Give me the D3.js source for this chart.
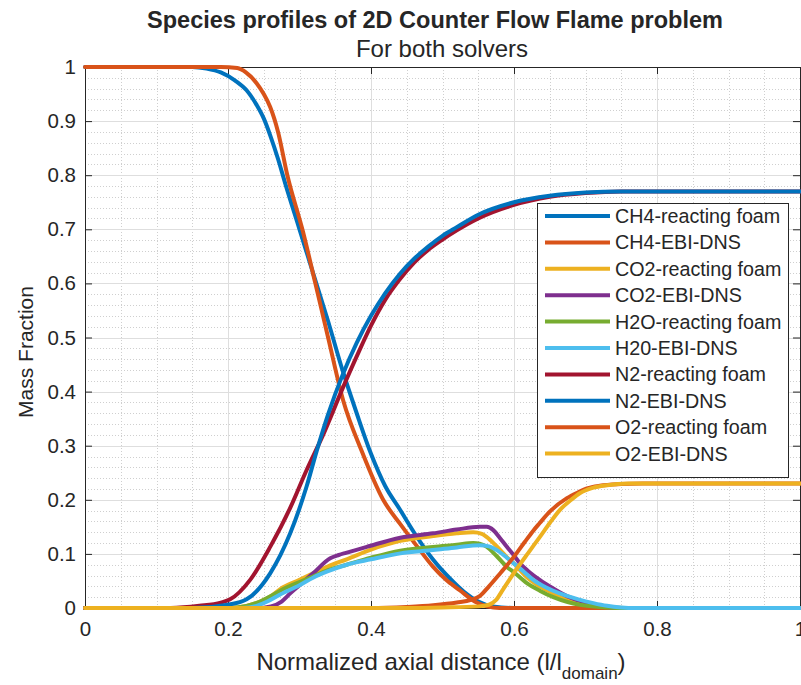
<!DOCTYPE html>
<html><head><meta charset="utf-8">
<script src="https://cdn.jsdelivr.net/npm/d3@7"></script>
<style>
body{margin:0;background:#fff;}
text{font-family:"Liberation Sans",Arial,Helvetica,sans-serif;fill:#262626;}
</style>
</head><body>
<svg id="chart" width="801" height="685"></svg>
<script>
// ---------------- data ----------------
const seriesNames = ["CH4-reacting foam","CH4-EBI-DNS","CO2-reacting foam","CO2-EBI-DNS","H2O-reacting foam","H20-EBI-DNS","N2-reacting foam","N2-EBI-DNS","O2-reacting foam","O2-EBI-DNS"];
const seriesColors = ["#0072BD","#D95319","#EDB120","#7E2F8E","#77AC30","#4DBEEE","#A2142F","#0072BD","#D95319","#EDB120"];

const ch4Foam = [[0,1],[0.15,1],[0.17,0.997],[0.19,0.99],[0.21,0.975],[0.226,0.957],[0.24,0.93],[0.25,0.905],[0.26,0.87],[0.27,0.83],[0.28,0.785],[0.30,0.70],[0.32,0.615],[0.34,0.53],[0.36,0.44],[0.38,0.36],[0.40,0.285],[0.42,0.225],[0.44,0.183],[0.46,0.14],[0.487,0.089],[0.51,0.055],[0.53,0.03],[0.55,0.012],[0.57,0.003],[0.60,0],[1,0]];
const ch4Ebi = [[0,1],[0.19,1],[0.213,0.998],[0.225,0.99],[0.24,0.97],[0.25,0.95],[0.259,0.926],[0.27,0.88],[0.283,0.80],[0.305,0.695],[0.322,0.601],[0.34,0.50],[0.361,0.384],[0.387,0.29],[0.417,0.2],[0.441,0.155],[0.465,0.113],[0.487,0.076],[0.505,0.052],[0.524,0.033],[0.545,0.012],[0.562,0.003],[0.58,0],[1,0]];
const co2Foam = [[0,0],[0.2,0],[0.226,0.004],[0.245,0.012],[0.26,0.022],[0.273,0.035],[0.30,0.052],[0.319,0.064],[0.34,0.077],[0.366,0.09],[0.40,0.108],[0.441,0.124],[0.487,0.133],[0.52,0.138],[0.543,0.140],[0.555,0.137],[0.562,0.131],[0.575,0.115],[0.59,0.094],[0.60,0.082],[0.618,0.057],[0.636,0.04],[0.655,0.027],[0.68,0.013],[0.702,0.006],[0.73,0.002],[0.76,0],[1,0]];
const co2Ebi = [[0,0],[0.24,0],[0.26,0.003],[0.275,0.012],[0.287,0.027],[0.30,0.042],[0.319,0.064],[0.343,0.092],[0.355,0.098],[0.365,0.102],[0.394,0.113],[0.441,0.13],[0.487,0.138],[0.52,0.145],[0.552,0.150],[0.562,0.15],[0.571,0.144],[0.58,0.13],[0.59,0.113],[0.60,0.097],[0.608,0.083],[0.62,0.068],[0.636,0.052],[0.655,0.036],[0.674,0.022],[0.70,0.01],[0.72,0.003],[0.75,0],[1,0]];
const h2oFoam = [[0,0],[0.2,0],[0.226,0.004],[0.245,0.012],[0.26,0.022],[0.273,0.032],[0.30,0.048],[0.319,0.058],[0.34,0.07],[0.366,0.08],[0.40,0.093],[0.441,0.106],[0.487,0.113],[0.52,0.117],[0.543,0.120],[0.552,0.119],[0.562,0.113],[0.575,0.097],[0.59,0.076],[0.60,0.066],[0.618,0.046],[0.636,0.032],[0.655,0.020],[0.675,0.011],[0.692,0.006],[0.72,0.002],[0.75,0],[1,0]];
const h2oEbi = [[0,0],[0.22,0],[0.24,0.004],[0.255,0.012],[0.273,0.025],[0.30,0.042],[0.319,0.056],[0.34,0.068],[0.366,0.08],[0.40,0.09],[0.441,0.101],[0.487,0.107],[0.52,0.112],[0.552,0.116],[0.565,0.114],[0.576,0.107],[0.59,0.093],[0.599,0.083],[0.613,0.068],[0.627,0.052],[0.645,0.038],[0.664,0.027],[0.69,0.016],[0.711,0.009],[0.73,0.004],[0.75,0.001],[0.77,0],[1,0]];
const n2Foam = [[0,0],[0.12,0],[0.16,0.004],[0.19,0.01],[0.203,0.016],[0.231,0.052],[0.259,0.113],[0.287,0.185],[0.31,0.255],[0.333,0.32],[0.36,0.405],[0.38,0.465],[0.40,0.522],[0.42,0.57],[0.44,0.607],[0.46,0.638],[0.48,0.662],[0.50,0.681],[0.52,0.698],[0.55,0.72],[0.60,0.745],[0.65,0.76],[0.70,0.767],[0.75,0.77],[1,0.77]];
const n2Ebi = [[0,0],[0.15,0],[0.20,0.006],[0.226,0.016],[0.259,0.064],[0.287,0.138],[0.31,0.225],[0.324,0.29],[0.34,0.358],[0.36,0.43],[0.38,0.49],[0.40,0.54],[0.42,0.582],[0.44,0.617],[0.46,0.645],[0.48,0.668],[0.50,0.688],[0.52,0.704],[0.55,0.727],[0.60,0.75],[0.65,0.762],[0.70,0.768],[0.75,0.77],[1,0.77]];
const o2Foam = [[0,0],[0.40,0],[0.45,0.002],[0.487,0.005],[0.52,0.01],[0.54,0.015],[0.552,0.022],[0.565,0.04],[0.58,0.063],[0.60,0.095],[0.615,0.122],[0.627,0.143],[0.636,0.157],[0.65,0.178],[0.674,0.203],[0.69,0.214],[0.702,0.221],[0.72,0.226],[0.75,0.229],[0.78,0.23],[1,0.23]];
const o2Ebi = [[0,0],[0.45,0],[0.50,0.001],[0.55,0.003],[0.565,0.006],[0.575,0.015],[0.585,0.035],[0.60,0.065],[0.62,0.102],[0.636,0.131],[0.65,0.157],[0.664,0.181],[0.68,0.2],[0.692,0.212],[0.71,0.222],[0.73,0.227],[0.76,0.23],[1,0.23]];

const seriesData = [ch4Foam,ch4Ebi,co2Foam,co2Ebi,h2oFoam,h2oEbi,n2Foam,n2Ebi,o2Foam,o2Ebi];

const xTickValues = [0,0.2,0.4,0.6,0.8,1];
const xTickLabels = ["0","0.2","0.4","0.6","0.8","1"];
const yTickValues = [0,0.1,0.2,0.3,0.4,0.5,0.6,0.7,0.8,0.9,1];
const yTickLabels = ["0","0.1","0.2","0.3","0.4","0.5","0.6","0.7","0.8","0.9","1"];
const xMinorStep = 0.05, yMinorStep = 0.02;

const titleText = "Species profiles of 2D Counter Flow Flame problem";
const subtitleText = "For both solvers";
const yLabelText = "Mass Fraction";

// ---------------- layout ----------------
const L = 85, R = 800, T = 67, B = 608;
const svg = d3.select("#chart");
const x = d3.scaleLinear().domain([0,1]).range([L,R]);
const y = d3.scaleLinear().domain([0,1]).range([B,T]);

const xMinor = d3.range(0,1.0001,xMinorStep).filter(v=>!xTickValues.some(t=>Math.abs(t-v)<1e-9));
const yMinor = d3.range(0,1.0001,yMinorStep).filter(v=>!yTickValues.some(t=>Math.abs(t-v)<1e-9));

const grid = svg.append("g");
grid.selectAll(".mx").data(xMinor).join("line")
  .attr("x1",d=>Math.round(x(d))+0.5).attr("x2",d=>Math.round(x(d))+0.5).attr("y1",T).attr("y2",B)
  .attr("stroke","#cfcfcf").attr("stroke-width",1).attr("stroke-dasharray","1,2");
grid.selectAll(".my").data(yMinor).join("line")
  .attr("y1",d=>Math.round(y(d))+0.5).attr("y2",d=>Math.round(y(d))+0.5).attr("x1",L).attr("x2",R)
  .attr("stroke","#cfcfcf").attr("stroke-width",1).attr("stroke-dasharray","1,2");
grid.selectAll(".gx").data(xTickValues).join("line")
  .attr("x1",d=>Math.round(x(d))+0.5).attr("x2",d=>Math.round(x(d))+0.5).attr("y1",T).attr("y2",B)
  .attr("stroke","#dedede").attr("stroke-width",1);
grid.selectAll(".gy").data(yTickValues).join("line")
  .attr("y1",d=>Math.round(y(d))+0.5).attr("y2",d=>Math.round(y(d))+0.5).attr("x1",L).attr("x2",R)
  .attr("stroke","#dedede").attr("stroke-width",1);

// axes (ticks inward)
const tickLen = 7;
const fmtX = (d,i)=>xTickLabels[i], fmtY = (d,i)=>yTickLabels[i];
const axB = svg.append("g").attr("transform",`translate(0,${B})`)
  .call(d3.axisBottom(x).tickValues(xTickValues).tickFormat(fmtX).tickSizeInner(-tickLen).tickSizeOuter(0).tickPadding(13));
const axT = svg.append("g").attr("transform",`translate(0,${T})`)
  .call(d3.axisTop(x).tickValues(xTickValues).tickFormat("").tickSizeInner(-tickLen).tickSizeOuter(0));
const axL = svg.append("g").attr("transform",`translate(${L},0)`)
  .call(d3.axisLeft(y).tickValues(yTickValues).tickFormat(fmtY).tickSizeInner(-tickLen).tickSizeOuter(0).tickPadding(9));
const axR = svg.append("g").attr("transform",`translate(${R},0)`)
  .call(d3.axisRight(y).tickValues(yTickValues).tickFormat("").tickSizeInner(-tickLen).tickSizeOuter(0));
[axB,axT,axL,axR].forEach(a=>{
  a.select(".domain").attr("stroke","#262626");
  a.selectAll(".tick line").attr("stroke","#262626");
  a.selectAll(".tick text").attr("font-size",20.5).attr("fill","#262626")
   .style("font-family",'"Liberation Sans",Arial,sans-serif');
});

// lines
const lineGen = d3.line().x(d=>x(d[0])).y(d=>y(d[1])).curve(d3.curveMonotoneX);
const linesG = svg.append("g");
seriesData.forEach((s,i)=>{
  linesG.append("path").attr("d",lineGen(s)).attr("fill","none")
    .attr("stroke",seriesColors[i]).attr("stroke-width",4)
    .attr("stroke-linejoin","round").attr("stroke-linecap","round");
});

// legend
const lg = svg.append("g");
const lgX = 537, lgY = 203, lgW = 251, lgH = 274, rowH = 26.4, row0 = 216;
lg.append("rect").attr("x",lgX+0.5).attr("y",lgY+0.5).attr("width",lgW).attr("height",lgH)
  .attr("fill","#fff").attr("stroke","#262626").attr("stroke-width",1);
seriesNames.forEach((n,i)=>{
  const cy = row0 + i*rowH;
  lg.append("line").attr("x1",545).attr("x2",610).attr("y1",cy).attr("y2",cy)
    .attr("stroke",seriesColors[i]).attr("stroke-width",4);
  lg.append("text").attr("x",615).attr("y",cy).attr("dy","0.36em").attr("font-size",19.7).text(n);
});

// titles
svg.append("text").attr("x",435).attr("y",28).attr("text-anchor","middle")
  .attr("font-size",23.5).attr("font-weight","bold").attr("fill","#000").text(titleText);
svg.append("text").attr("x",442).attr("y",57).attr("text-anchor","middle")
  .attr("font-size",24).attr("fill","#000").text(subtitleText);

// axis labels
const xl = svg.append("text").attr("x",441).attr("y",670).attr("text-anchor","middle").attr("font-size",24);
xl.append("tspan").text("Normalized axial distance (l/l");
xl.append("tspan").attr("font-size",17).attr("dy",9).text("domain");
xl.append("tspan").attr("dy",-9).text(")");
svg.append("text").attr("transform",`translate(33,352) rotate(-90)`).attr("text-anchor","middle")
  .attr("font-size",21).text(yLabelText);
</script>
</body></html>
